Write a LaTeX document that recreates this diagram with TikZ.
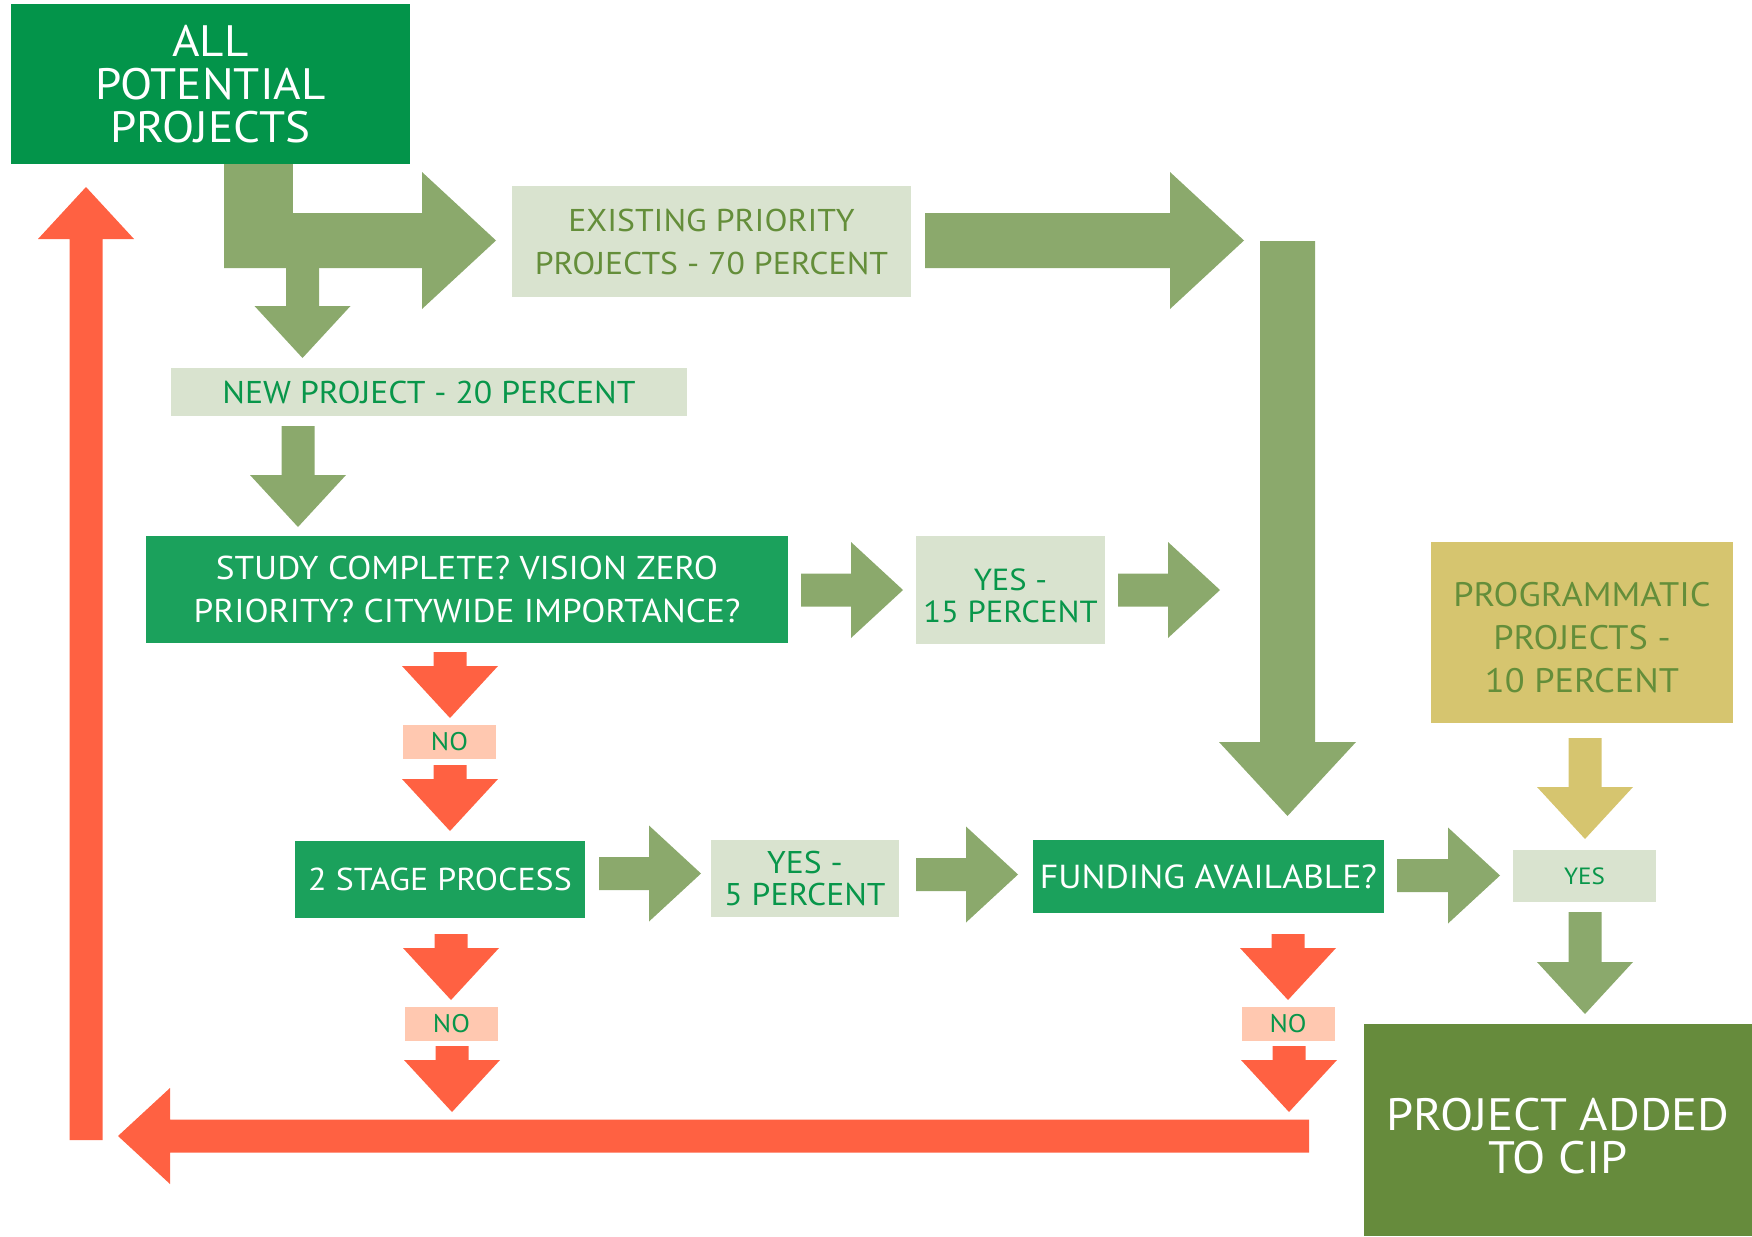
\documentclass[tikz,border=0pt]{standalone}
\usepackage{fontspec}
\setmainfont{PT Sans}[FakeStretch=1.07]

\definecolor{allgreen}{RGB}{3,148,74}
\definecolor{boxgreen}{RGB}{27,161,92}
\definecolor{arrowgreen}{RGB}{139,169,108}
\definecolor{palegreen}{RGB}{217,227,207}
\definecolor{textgreen}{RGB}{8,150,74}
\definecolor{olivetext}{RGB}{100,142,58}
\definecolor{arrowred}{RGB}{255,97,66}
\definecolor{palered}{RGB}{255,200,176}
\definecolor{mustard}{RGB}{214,197,111}
\definecolor{cipgreen}{RGB}{102,139,60}

% block arrow sizes
\newcommand{\setsmallarrow}{\def\shaftw{16.5}\def\headw{48}\def\headl{52}}
\newcommand{\setbigarrow}{\def\shaftw{27.5}\def\headw{68.5}\def\headl{74}}
% colour, start x, tip x, y
\newcommand{\arrowE}[4]{\fill[#1] (#2,{#4-\shaftw}) -- ({#3-\headl},{#4-\shaftw}) -- ({#3-\headl},{#4-\headw}) -- (#3,#4) -- ({#3-\headl},{#4+\headw}) -- ({#3-\headl},{#4+\shaftw}) -- (#2,{#4+\shaftw}) -- cycle;}
\newcommand{\arrowW}[4]{\fill[#1] (#2,{#4-\shaftw}) -- ({#3+\headl},{#4-\shaftw}) -- ({#3+\headl},{#4-\headw}) -- (#3,#4) -- ({#3+\headl},{#4+\headw}) -- ({#3+\headl},{#4+\shaftw}) -- (#2,{#4+\shaftw}) -- cycle;}
% colour, x, start y, tip y
\newcommand{\arrowS}[4]{\fill[#1] ({#2-\shaftw},#3) -- ({#2-\shaftw},{#4-\headl}) -- ({#2-\headw},{#4-\headl}) -- (#2,#4) -- ({#2+\headw},{#4-\headl}) -- ({#2+\shaftw},{#4-\headl}) -- ({#2+\shaftw},#3) -- cycle;}
\newcommand{\arrowN}[4]{\fill[#1] ({#2-\shaftw},#3) -- ({#2-\shaftw},{#4+\headl}) -- ({#2-\headw},{#4+\headl}) -- (#2,#4) -- ({#2+\headw},{#4+\headl}) -- ({#2+\shaftw},{#4+\headl}) -- ({#2+\shaftw},#3) -- cycle;}
% pushes a text block down by half of #1
\newcommand{\downby}[1]{\rule{0pt}{\dimexpr0.72em+#1\relax}}

\tikzset{
  box/.style={rectangle, inner sep=0pt, align=center},
  darkbox/.style={box, fill=boxgreen, text=white, font=\fontsize{31.5}{43}\selectfont},
  lightbox/.style={box, fill=palegreen, text=textgreen, font=\fontsize{31.5}{43}\selectfont},
  nobox/.style={box, fill=palered, text=textgreen, minimum width=93pt, minimum height=34pt, font=\fontsize{25.5}{30}\selectfont},
}

\begin{document}
\begin{tikzpicture}[x=1pt, y=-1pt]
    \useasboundingbox (0,0) rectangle (1752,1236);

    % boxes
    \node[box, fill=allgreen, text=white, minimum width=399pt, minimum height=160pt,
          font=\fontsize{44}{43}\selectfont] (all) at (210.5,84) {ALL\\POTENTIAL\\PROJECTS};
    \node[lightbox, text=olivetext, minimum width=399pt, minimum height=111pt] (exist) at (711.5,241.5)
          {EXISTING PRIORITY\\PROJECTS - 70 PERCENT};
    \node[lightbox, minimum width=516pt, minimum height=48pt] (new) at (429,392) {NEW PROJECT - 20 PERCENT};
    \node[darkbox, minimum width=642pt, minimum height=107pt, font=\fontsize{33}{43}\selectfont] (study) at (467,589.5)
          {STUDY COMPLETE? VISION ZERO\\PRIORITY? CITYWIDE IMPORTANCE?};
    \node[lightbox, minimum width=189pt, minimum height=108pt, font=\fontsize{30.5}{32}\selectfont] (yesA) at (1010.5,590)
          {\downby{12pt}YES -\\15 PERCENT};
    \node[box, fill=mustard, text=olivetext, minimum width=302pt, minimum height=181pt,
          font=\fontsize{34}{43}\selectfont] (prog) at (1582,632.5) {\downby{10pt}PROGRAMMATIC\\PROJECTS -\\10 PERCENT};
    \node[nobox] (noA) at (449.5,742) {NO};
    \node[darkbox, minimum width=290pt, minimum height=77pt, font=\fontsize{31.7}{40}\selectfont] (stage) at (440,879.5)
          {2 STAGE PROCESS};
    \node[lightbox, minimum width=188pt, minimum height=77pt, font=\fontsize{31.4}{32}\selectfont] (yesB) at (805,878.5)
          {YES -\\5 PERCENT};
    \node[darkbox, minimum width=351pt, minimum height=73pt, font=\fontsize{33.3}{40}\selectfont] (fund) at (1208.5,876.5)
          {FUNDING AVAILABLE?};
    \node[lightbox, minimum width=143pt, minimum height=52pt, font=\fontsize{23.5}{30}\selectfont] (yesC) at (1584.5,876)
          {YES};
    \node[nobox] (noB) at (451.5,1024) {NO};
    \node[nobox] (noC) at (1288,1024) {NO};
    \node[box, fill=cipgreen, text=white, minimum width=388pt, minimum height=212pt,
          font=\fontsize{45.4}{43}\selectfont] (added) at (1558,1130) {\downby{12pt}PROJECT ADDED\\TO CIP};

    % green arrows
    \setbigarrow
    \fill[arrowgreen] (224,164) rectangle (293,268);
    \arrowE{arrowgreen}{224}{496}{240.5}
    \arrowE{arrowgreen}{925}{1244}{240.5}
    \arrowS{arrowgreen}{1287.5}{241}{816}
    \setsmallarrow
    \arrowS{arrowgreen}{302.5}{266}{358}
    \arrowS{arrowgreen}{298}{426}{527}
    \arrowE{arrowgreen}{801}{903}{590}
    \arrowE{arrowgreen}{1118}{1220}{590}
    \arrowE{arrowgreen}{599}{701}{873.5}
    \arrowE{arrowgreen}{916}{1018}{874.5}
    \arrowE{arrowgreen}{1397}{1500}{875.5}
    \arrowS{mustard}{1585}{738}{839}
    \arrowS{arrowgreen}{1585}{912}{1014}

    % red arrows
    \arrowS{arrowred}{450}{652}{718}
    \arrowS{arrowred}{450}{765}{831}
    \arrowS{arrowred}{451}{934}{1000}
    \arrowS{arrowred}{452}{1046}{1112}
    \arrowS{arrowred}{1288}{934}{1000}
    \arrowS{arrowred}{1289}{1046}{1112}
    \arrowW{arrowred}{1309}{118}{1136}
    \arrowN{arrowred}{86}{1140}{187}
\end{tikzpicture}
\end{document}
